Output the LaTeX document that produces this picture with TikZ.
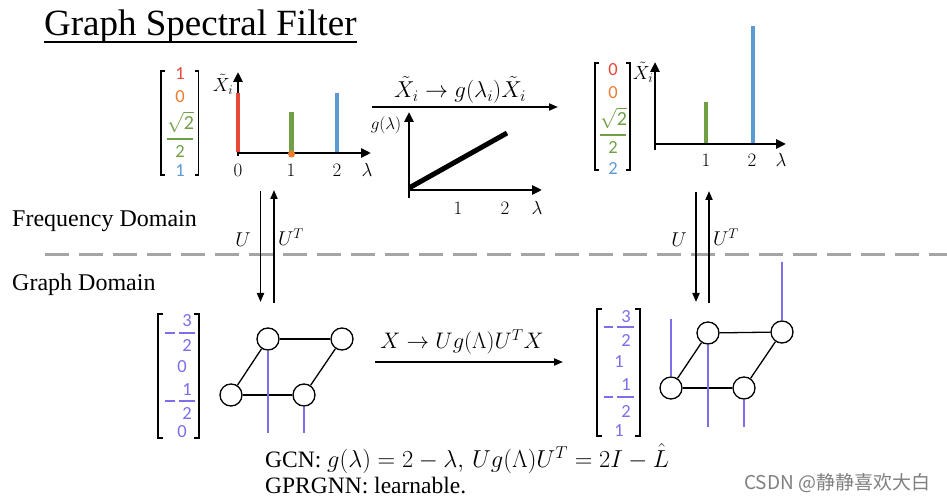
\RequirePackage{fix-cm}
\documentclass[tikz,border=0pt]{standalone}
\usepackage{fontspec}
\setmainfont{Liberation Serif}
\newfontfamily\carl{Carlito}
\newfontfamily\cjk{Noto Sans CJK SC}
\usetikzlibrary{arrows.meta}
\definecolor{cred}{RGB}{232,72,58}
\definecolor{corange}{RGB}{237,125,49}
\definecolor{cgreen}{RGB}{112,160,70}
\definecolor{cblue}{RGB}{91,155,213}
\definecolor{cpurp}{RGB}{125,110,235}
\definecolor{cdash}{RGB}{165,165,165}
\begin{document}
\begin{tikzpicture}[x=1pt,y=-1pt,
  axis/.style={line width=2.8pt,-{Triangle[length=10pt,width=9pt]}},
  flow/.style={line width=1.9pt,-{Triangle[length=9pt,width=7pt]}},
  sbar/.style={line width=4.8pt},
  vec/.style={font=\carl\fontsize{18.5}{20}\selectfont,inner sep=0pt},
  lab/.style={font=\fontsize{19}{22}\selectfont,inner sep=0pt},
  ulab/.style={font=\fontsize{20}{22}\selectfont,inner sep=0pt},
  txt/.style={anchor=base west,inner sep=0pt,font=\fontsize{24}{28}\selectfont},
  gnode/.style={circle,draw,line width=1.3pt,minimum size=22pt,inner sep=0pt,fill=white},
  gedge/.style={line width=1.3pt},
  sig/.style={cpurp,line width=1.2pt},
  brk/.style={line width=1.5pt},
  fbar/.style={line width=1.3pt},
]
\fill[white] (0,0) rectangle (947,502);
\useasboundingbox (0,0) rectangle (947,502);

% title
\node[anchor=base west,inner sep=0pt,font=\fontsize{37}{40}\selectfont] (title) at (44,35.5) {Graph Spectral Filter};
\draw[line width=2pt] ([yshift=-6.5pt]title.base west) -- ([yshift=-6.5pt]title.base east);

% domain labels
\node[txt] (freq) at (12,227) {Frequency Domain};
\node[txt] (gdom) at (12,291) {Graph Domain};

% dashed separator
\coordinate (dashL) at (45,255);
\coordinate (dashR) at (947,255);
\draw[cdash,line width=3pt,dash pattern=on 24pt off 10pt] (dashL) -- (dashR);

% ---------- top-left vector ----------
\draw[brk] (165,71) -- (161,71) -- (161,175) -- (165,175);
\draw[brk] (195,71) -- (198.5,71) -- (198.5,175) -- (195,175);
\node[vec,text=cred] (a1) at (180,74) {1};
\node[vec,text=corange] (a2) at (180,96.5) {0};
\node[vec,text=cgreen,font=\carl\fontsize{20}{22}\selectfont] (a3) at (180.5,122) {$\sqrt{\mbox{\carl 2}}$};
\draw[fbar,cgreen] (167,139) -- (193,139);
\node[vec,text=cgreen] (a4) at (180,152) {2};
\node[vec,text=cblue] (a5) at (180,171) {1};

% top-left plot
\draw[axis] (238,156) -- (238,72);
\draw[axis] (236.6,153) -- (371,153);
\draw[sbar,cred] (238,151.6) -- (238,93);
\draw[sbar,cgreen] (291.5,151.6) -- (291.5,112);
\draw[sbar,cblue] (337,151.6) -- (337,93);
\fill[corange] (291.5,154) circle (3.6pt);
\node[lab] (t10) at (238,170) {$0$};
\node[lab] (t11) at (291,170) {$1$};
\node[lab] (t12) at (337,170) {$2$};
\node[lab] (t1l) at (367,170) {$\lambda$};
\node[lab] (t1y) at (223,84) {$\tilde{X}_i$};

% ---------- middle filter ----------
\node[font=\fontsize{23}{26}\selectfont,inner sep=0pt] (ftext) at (460,90) {$\tilde{X}_i \rightarrow g(\lambda_i)\tilde{X}_i$};
\coordinate (fa1) at (372,107);
\coordinate (fa2) at (558,107);
\draw[flow] (fa1) -- (fa2);
\draw[axis] (409,198) -- (409,112);
\draw[axis] (407.6,190) -- (542,190);
\draw[line width=5pt] (409,188) -- (507,133);
\node[font=\fontsize{17}{20}\selectfont,inner sep=0pt] (gl) at (386,125) {$g(\lambda)$};
\node[lab] (t21) at (458,208) {$1$};
\node[lab] (t22) at (505,208) {$2$};
\node[lab] (t2l) at (537,208) {$\lambda$};

% ---------- top-right vector ----------
\draw[brk] (599,63) -- (595,63) -- (595,170) -- (599,170);
\draw[brk] (626,63) -- (630,63) -- (630,170) -- (626,170);
\node[vec,text=cred] (b1) at (613,70) {0};
\node[vec,text=corange] (b2) at (613,92.5) {0};
\node[vec,text=cgreen,font=\carl\fontsize{20}{22}\selectfont] (b3) at (613.5,118) {$\sqrt{\mbox{\carl 2}}$};
\draw[fbar,cgreen] (600,135) -- (626,135);
\node[vec,text=cgreen] (b4) at (613,148) {2};
\node[vec,text=cblue] (b5) at (613,168) {2};

% top-right plot
\draw[axis] (655,150) -- (655,62);
\draw[axis] (653.6,144) -- (786,144);
\draw[sbar,cgreen] (706,142.6) -- (706,102);
\draw[sbar,cblue] (753,142.6) -- (753,26);
\node[lab] (t31) at (706,160) {$1$};
\node[lab] (t32) at (752,160) {$2$};
\node[lab] (t3l) at (781,160) {$\lambda$};
\node[lab] (t3y) at (643,72) {$\tilde{X}_i$};

% ---------- U arrows ----------
\coordinate (lu1) at (260.5,191);
\coordinate (ld1) at (260.5,302);
\coordinate (lu2) at (274,190);
\coordinate (ld2) at (274,303);
\draw[flow] (lu1) -- (ld1);
\draw[flow] (ld2) -- (lu2);
\node[ulab] (lU) at (243,240) {$U$};
\node[ulab] (lUT) at (291,237) {$U^T$};

\coordinate (ru1) at (696,192);
\coordinate (rd1) at (696,302);
\coordinate (ru2) at (709,191);
\coordinate (rd2) at (709,303);
\draw[flow] (ru1) -- (rd1);
\draw[flow] (rd2) -- (ru2);
\node[ulab] (rU) at (679,240) {$U$};
\node[ulab] (rUT) at (726,237) {$U^T$};

% ---------- bottom-left vector ----------
\draw[brk] (163,314) -- (158,314) -- (158,438) -- (163,438);
\draw[brk] (194,314) -- (199,314) -- (199,438) -- (194,438);
\draw[fbar,cpurp] (165,333) -- (175,333);
\node[vec,text=cpurp] (c1) at (187,321) {3};
\draw[fbar,cpurp] (179,333) -- (195,333);
\node[vec,text=cpurp] (c2) at (187,345) {2};
\node[vec,text=cpurp] (c3) at (182,367) {0};
\draw[fbar,cpurp] (165,401) -- (175,401);
\node[vec,text=cpurp] (c4) at (187,390) {1};
\draw[fbar,cpurp] (179,401) -- (195,401);
\node[vec,text=cpurp] (c5) at (187,413) {2};
\node[vec,text=cpurp] (c6) at (182,432) {0};

% bottom-left graph
\node[gnode] (n1) at (268,339) {};
\node[gnode] (n2) at (342,339) {};
\node[gnode] (n3) at (231,395) {};
\node[gnode] (n4) at (304,395) {};
\draw[gedge] (n1) -- (n2);
\draw[gedge] (n3) -- (n4);
\draw[gedge] (n3) -- (n1);
\draw[gedge] (n4) -- (n2);
\coordinate (s1) at (268,433);
\coordinate (s4) at (304,433);
\draw[sig] (n1.south) -- (s1);
\draw[sig] (n4.south) -- (s4);

% ---------- bottom arrow ----------
\node[font=\fontsize{22.5}{26}\selectfont,inner sep=0pt] (btext) at (462,342) {$X \rightarrow Ug(\Lambda)U^TX$};
\coordinate (ba1) at (375,362);
\coordinate (ba2) at (563,362);
\draw[flow] (ba1) -- (ba2);

% ---------- bottom-right vector ----------
\draw[brk] (602,309) -- (597,309) -- (597,436) -- (602,436);
\draw[brk] (635,309) -- (640,309) -- (640,436) -- (635,436);
\draw[fbar,cpurp] (604,327) -- (613,327);
\node[vec,text=cpurp] (d1) at (626,317) {3};
\draw[fbar,cpurp] (617,327) -- (634,327);
\node[vec,text=cpurp] (d2) at (626,340) {2};
\node[vec,text=cpurp] (d3) at (619,362) {1};
\draw[fbar,cpurp] (604,397) -- (613,397);
\node[vec,text=cpurp] (d4) at (626,385) {1};
\draw[fbar,cpurp] (617,397) -- (634,397);
\node[vec,text=cpurp] (d5) at (626,411) {2};
\node[vec,text=cpurp] (d6) at (619,431) {1};

% bottom-right graph
\node[gnode] (m1) at (708,333) {};
\node[gnode] (m2) at (782,332) {};
\node[gnode] (m3) at (671,388) {};
\node[gnode] (m4) at (744,388) {};
\draw[gedge] (m1) -- (m2);
\draw[gedge] (m3) -- (m4);
\draw[gedge] (m3) -- (m1);
\draw[gedge] (m4) -- (m2);
\coordinate (r3) at (671,319);
\coordinate (r1) at (708,427);
\coordinate (r2) at (782,262);
\coordinate (r4) at (744,427);
\draw[sig] (m3.north) -- (r3);
\draw[sig] (m1.south) -- (r1);
\draw[sig] (m2.north) -- (r2);
\draw[sig] (m4.south) -- (r4);

% ---------- bottom text ----------
\node[anchor=base west,inner sep=0pt,font=\fontsize{23.5}{28}\selectfont] (gcn) at (265,467) {GCN: {\fontsize{24.5}{28}\selectfont$g(\lambda)=2-\lambda,\, Ug(\Lambda)U^T=2I-\hat{L}$}};
\node[anchor=base west,inner sep=0pt,font=\fontsize{23.5}{28}\selectfont] (gpr) at (265,493) {GPRGNN: learnable.};

% watermark
\node[anchor=west,inner sep=0pt,text=gray,font=\cjk\fontsize{19}{22}\selectfont] (wm) at (744,483) {CSDN @静静喜欢大白};
\end{tikzpicture}
\end{document}
